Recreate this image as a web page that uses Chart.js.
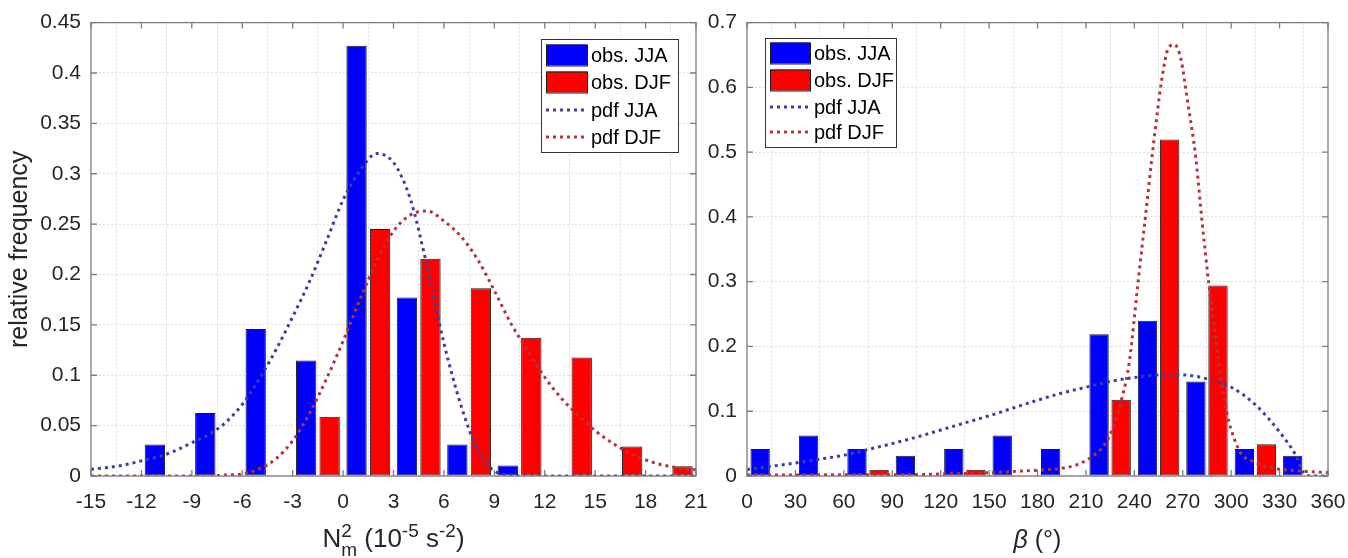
<!DOCTYPE html>
<html lang="en">
<head>
    <meta charset="UTF-8">
    <title>N2 and beta histograms, JJA vs DJF</title>
    <script src="https://cdn.jsdelivr.net/npm/chart.js"></script>
    <style>
        body {
            margin: 0;
            background: #fff;
            width: 1348px;
            height: 558px;
            overflow: hidden;
            position: relative;
        }
        canvas {
            position: absolute;
            top: 0;
        }
        #n2Chart { left: 0; }
        #betaChart { left: 700px; }
    </style>
</head>
<body>
    <canvas id="n2Chart" width="740" height="558"></canvas>
    <canvas id="betaChart" width="690" height="558"></canvas>

    <script>
        // ---- N_m^2 panel (units 1e-5 s^-2), bins 3 wide ----
        const n2BinCentres = [-10.5, -7.5, -4.5, -1.5, 1.5, 4.5, 7.5, 10.5, 13.5, 16.5, 19.5];
        const n2ObsJJA = [0.0313, 0.0625, 0.1458, 0.1146, 0.4271, 0.1771, 0.0313, 0.0104, null, null, null];
        const n2ObsDJF = [null, null, null, 0.0588, 0.2451, 0.2157, 0.1863, 0.1373, 0.1176, 0.0294, 0.0098];

        const n2PdfX = [-15, -14, -13, -12, -11, -10, -9, -8, -7, -6, -5, -4, -3, -2, -1, 0, 1, 2, 3,
                        4, 5, 6, 7, 8, 9, 10, 11, 12, 13, 14, 15, 16, 17, 18, 19, 20, 21];
        const n2PdfJJA = [0.0066, 0.0085, 0.011, 0.015, 0.019, 0.025, 0.033, 0.041, 0.053, 0.071, 0.096,
                          0.125, 0.158, 0.193, 0.233, 0.274, 0.303, 0.320, 0.311, 0.275, 0.208, 0.132,
                          0.071, 0.026, 0.005, 0.001, 0, 0, 0, 0, 0, 0, 0, 0, 0, 0, 0];
        const n2PdfDJF = [0, 0, 0, 0, 0, 0, 0, 0, 0.001, 0.002, 0.007, 0.017, 0.035, 0.062, 0.096,
                          0.134, 0.175, 0.213, 0.243, 0.259, 0.263, 0.253, 0.238, 0.215, 0.184, 0.151,
                          0.124, 0.098, 0.077, 0.060, 0.045, 0.033, 0.023, 0.016, 0.011, 0.008, 0.006];

        const n2XTicks = [-15, -12, -9, -6, -3, 0, 3, 6, 9, 12, 15, 18, 21];
        const n2YTicks = [0, 0.05, 0.1, 0.15, 0.2, 0.25, 0.3, 0.35, 0.4, 0.45];

        // ---- beta panel (degrees), bins 30 wide ----
        const betaBinCentres = [15, 45, 75, 105, 135, 165, 195, 225, 255, 285, 315, 345];
        const betaObsJJA = [0.0417, 0.0625, 0.0417, 0.0313, 0.0417, 0.0625, 0.0417, 0.2188, 0.2396, 0.1458, 0.0417, 0.0313];
        const betaObsDJF = [null, null, 0.0098, null, 0.0098, null, null, 0.1176, 0.5196, 0.2941, 0.0490, null];

        const betaPdfJJAx = [0, 15, 30, 45, 60, 75, 90, 105, 120, 135, 150, 165, 180, 195, 210, 225,
                             240, 255, 270, 285, 300, 315, 330, 340, 345, 350, 360];
        const betaPdfJJA = [0.010, 0.015, 0.020, 0.026, 0.032, 0.041, 0.050, 0.060, 0.071, 0.082, 0.093,
                            0.105, 0.117, 0.128, 0.137, 0.146, 0.152, 0.156, 0.156, 0.150, 0.137, 0.110,
                            0.068, 0.032, 0.005, 0, 0];
        const betaPdfDJFx = [0, 30, 60, 90, 120, 150, 165, 180, 195, 205, 215, 222, 227, 232, 237, 242,
                             247, 252, 257, 261, 265, 269, 273, 278, 282, 286, 290, 294, 298, 302, 306,
                             314, 324, 342, 360];
        const betaPdfDJF = [0.0015, 0.0015, 0.002, 0.002, 0.003, 0.005, 0.007, 0.009, 0.012, 0.018, 0.032,
                            0.050, 0.076, 0.117, 0.178, 0.292, 0.403, 0.515, 0.612, 0.660, 0.666, 0.642,
                            0.578, 0.493, 0.392, 0.300, 0.222, 0.145, 0.090, 0.057, 0.035, 0.022, 0.013,
                            0.008, 0.005];

        const betaXTicks = [0, 30, 60, 90, 120, 150, 180, 210, 240, 270, 300, 330, 360];
        const betaYTicks = [0, 0.1, 0.2, 0.3, 0.4, 0.5, 0.6, 0.7];

        const FONT = "'Liberation Sans', Arial, Helvetica, sans-serif";
        Chart.defaults.font.family = FONT;
        Chart.defaults.color = '#262626';

        const toPoints = (xs, ys) => xs.map((x, i) => ({ x: x, y: ys[i] }));

        function barSet(label, xs, ys, colour, catPct, barPct) {
            return {
                type: 'bar',
                label: label,
                data: toPoints(xs, ys),
                backgroundColor: colour,
                borderColor: '#1e1e1e',
                borderWidth: 1,
                borderSkipped: false,
                categoryPercentage: catPct,
                barPercentage: barPct,
                order: 1
            };
        }

        function pdfSet(label, xs, ys, colour) {
            return {
                type: 'line',
                label: label,
                data: toPoints(xs, ys),
                borderColor: colour,
                borderWidth: 3,
                borderDash: [3, 4],
                pointRadius: 0,
                fill: false,
                cubicInterpolationMode: 'monotone',
                order: 0
            };
        }

        // legend box drawn inside the axes
        function drawLegend(chart, lg) {
            const ctx = chart.ctx;
            ctx.save();
            ctx.fillStyle = '#fff';
            ctx.fillRect(lg.x, lg.y, lg.w, lg.h);
            ctx.strokeStyle = '#333';
            ctx.lineWidth = 1;
            ctx.strokeRect(lg.x + 0.5, lg.y + 0.5, lg.w, lg.h);
            ctx.font = lg.fontSize + 'px ' + FONT;
            ctx.textBaseline = 'middle';
            chart.data.datasets.forEach((ds, i) => {
                const cy = lg.rows[i];
                if (ds.type === 'bar') {
                    ctx.fillStyle = ds.backgroundColor;
                    ctx.fillRect(lg.sampleX, cy - lg.patchH / 2, lg.sampleW, lg.patchH);
                    ctx.strokeStyle = ds.borderColor;
                    ctx.lineWidth = 1;
                    ctx.strokeRect(lg.sampleX + 0.5, cy - lg.patchH / 2 + 0.5, lg.sampleW, lg.patchH);
                } else {
                    ctx.strokeStyle = ds.borderColor;
                    ctx.lineWidth = ds.borderWidth;
                    ctx.setLineDash(ds.borderDash);
                    ctx.beginPath();
                    ctx.moveTo(lg.sampleX, cy);
                    ctx.lineTo(lg.sampleX + lg.sampleW, cy);
                    ctx.stroke();
                    ctx.setLineDash([]);
                }
                ctx.fillStyle = '#000';
                ctx.fillText(ds.label, lg.textX, cy + 1);
            });
            ctx.restore();
        }

        // axis title with super/subscripts, drawn piece by piece
        function drawRichTitle(chart, t) {
            const ctx = chart.ctx;
            const fontOf = p => (p.italic ? 'italic ' : '') + p.size + 'px ' + FONT;
            ctx.save();
            ctx.fillStyle = '#262626';
            ctx.textBaseline = 'alphabetic';
            let total = 0;
            t.parts.forEach(p => {
                ctx.font = fontOf(p);
                p.w = ctx.measureText(p.text).width;
                if (!p.stack) total += p.w;
            });
            let x = t.cx - total / 2;
            t.parts.forEach(p => {
                ctx.font = fontOf(p);
                ctx.fillText(p.text, x, t.baseline + (p.dy || 0));
                if (!p.stack) x += p.w;
            });
            ctx.restore();
        }

        // box round the axes with inward tick marks, then legend and x title
        function makeDecor(legend, xTitle) {
            return {
                id: 'decor',
                afterDatasetsDraw(chart) {
                    const { ctx, chartArea: a, scales: { x, y } } = chart;
                    ctx.save();
                    ctx.strokeStyle = '#7c7c7c';
                    ctx.lineWidth = 1.3;
                    ctx.beginPath();
                    x.ticks.forEach(t => {
                        const px = x.getPixelForValue(t.value);
                        ctx.moveTo(px, a.bottom); ctx.lineTo(px, a.bottom - 6);
                        ctx.moveTo(px, a.top); ctx.lineTo(px, a.top + 6);
                    });
                    y.ticks.forEach(t => {
                        const py = y.getPixelForValue(t.value);
                        ctx.moveTo(a.left, py); ctx.lineTo(a.left + 6, py);
                        ctx.moveTo(a.right, py); ctx.lineTo(a.right - 6, py);
                    });
                    ctx.stroke();
                    ctx.strokeRect(a.left, a.top, a.width, a.height);
                    ctx.restore();
                },
                afterDraw(chart) {
                    drawLegend(chart, legend);
                    drawRichTitle(chart, xTitle);
                }
            };
        }

        function axisOptions(xMin, xMax, xTicks, yMax, yTicks, yWidth, yTitle) {
            const grid = { color: '#dcdcdc', lineWidth: 1, drawTicks: false };
            const border = { display: false, dash: [2, 2] };
            return {
                x: {
                    type: 'linear',
                    min: xMin,
                    max: xMax,
                    offset: false,
                    grid: grid,
                    border: border,
                    afterBuildTicks: axis => { axis.ticks = xTicks.map(v => ({ value: v })); },
                    afterFit: axis => { axis.height = 82; },
                    ticks: {
                        font: { size: 21 },
                        color: '#262626',
                        padding: 14,
                        maxRotation: 0,
                        autoSkip: false,
                        callback: v => String(v)
                    }
                },
                y: {
                    min: 0,
                    max: yMax,
                    grid: grid,
                    border: border,
                    afterBuildTicks: axis => { axis.ticks = yTicks.map(v => ({ value: v })); },
                    afterFit: axis => { axis.width = yWidth; },
                    ticks: {
                        font: { size: 21 },
                        color: '#262626',
                        padding: 10,
                        callback: v => String(v)
                    },
                    title: yTitle ? {
                        display: true,
                        text: yTitle,
                        font: { size: 25 },
                        color: '#262626',
                        padding: { top: 5, bottom: 0 }
                    } : { display: false }
                }
            };
        }

        function baseOptions(padRight, scales) {
            return {
                responsive: false,
                animation: false,
                events: [],
                layout: { padding: { top: 21, right: padRight, bottom: 0, left: 0 } },
                plugins: {
                    legend: { display: false },
                    tooltip: { enabled: false }
                },
                scales: scales
            };
        }

        function createN2Chart() {
            const ctx = document.getElementById('n2Chart').getContext('2d');
            new Chart(ctx, {
                data: {
                    datasets: [
                        barSet('obs. JJA', n2BinCentres, n2ObsJJA, '#0000ff', 0.933, 0.865),
                        barSet('obs. DJF', n2BinCentres, n2ObsDJF, '#ff0000', 0.933, 0.865),
                        pdfSet('pdf JJA', n2PdfX, n2PdfJJA, '#3a3fa0'),
                        pdfSet('pdf DJF', n2PdfX, n2PdfDJF, '#b5343c')
                    ]
                },
                // canvas is 740 wide; 44px right padding keeps the plot edge at x = 696
                options: baseOptions(44, axisOptions(-15, 21, n2XTicks, 0.45, n2YTicks, 91, 'relative frequency')),
                plugins: [makeDecor(
                    { x: 541, y: 39, w: 137, h: 113, rows: [55, 82, 110, 137],
                      sampleX: 546, sampleW: 41, patchH: 21, textX: 591, fontSize: 20 },
                    { cx: 393.5, baseline: 547, parts: [
                        { text: 'N', size: 26 },
                        { text: '2', size: 19, dy: -10, stack: true },
                        { text: 'm', size: 19, dy: 9 },
                        { text: ' (10', size: 26 },
                        { text: '-5', size: 19, dy: -10 },
                        { text: ' s', size: 26 },
                        { text: '-2', size: 19, dy: -10 },
                        { text: ')', size: 26 }
                    ] }
                )]
            });
        }

        function createBetaChart() {
            const ctx = document.getElementById('betaChart').getContext('2d');
            new Chart(ctx, {
                data: {
                    datasets: [
                        barSet('obs. JJA', betaBinCentres, betaObsJJA, '#0000ff', 0.913, 0.876),
                        barSet('obs. DJF', betaBinCentres, betaObsDJF, '#ff0000', 0.913, 0.876),
                        pdfSet('pdf JJA', betaPdfJJAx, betaPdfJJA, '#3a3fa0'),
                        pdfSet('pdf DJF', betaPdfDJFx, betaPdfDJF, '#b5343c')
                    ]
                },
                // canvas is 690 wide from x = 700; plot spans 747..1328
                options: baseOptions(62, axisOptions(0, 360, betaXTicks, 0.7, betaYTicks, 47, null)),
                plugins: [makeDecor(
                    { x: 65, y: 38, w: 131, h: 109, rows: [53, 80, 107, 132],
                      sampleX: 70, sampleW: 40, patchH: 21, textX: 114, fontSize: 20 },
                    { cx: 337.5, baseline: 548, parts: [
                        { text: 'β', size: 25, italic: true },
                        { text: ' (°)', size: 25 }
                    ] }
                )]
            });
        }

        createN2Chart();
        createBetaChart();
    </script>
</body>
</html>
